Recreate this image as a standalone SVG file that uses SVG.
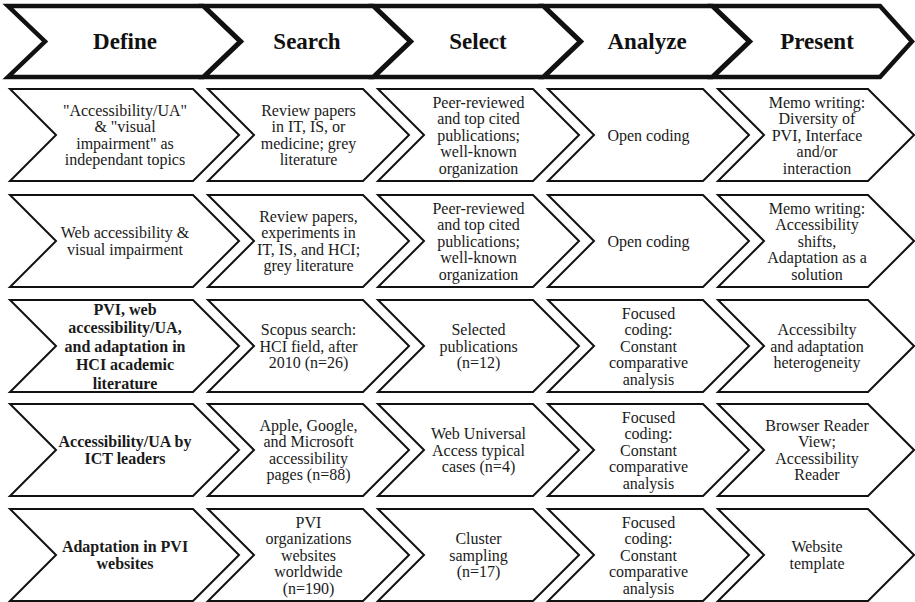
<svg xmlns="http://www.w3.org/2000/svg" width="915" height="602" viewBox="0 0 915 602">
<defs>
<polygon id="hdshape" points="0,0 0,0"/>
</defs>
<rect width="915" height="602" fill="#fff"/>
<!-- Header -->
<g id="header" fill="#fff" stroke="#111" stroke-width="4.5">
<g id="h-define"><polygon points="8,6 203,6 240,41.5 203,77 8,77 45,41.5"/><text font-family="Liberation Serif" font-weight="bold" font-size="23" fill="#111" stroke="none" text-anchor="middle" x="125" y="49">Define</text></g>
<g id="h-search"><polygon points="204,6 373,6 410,41.5 373,77 204,77 241,41.5"/><text font-family="Liberation Serif" font-weight="bold" font-size="23" fill="#111" stroke="none" text-anchor="middle" x="307" y="49">Search</text></g>
<g id="h-select"><polygon points="374,6 543,6 580,41.5 543,77 374,77 411,41.5"/><text font-family="Liberation Serif" font-weight="bold" font-size="23" fill="#111" stroke="none" text-anchor="middle" x="478" y="49">Select</text></g>
<g id="h-analyze"><polygon points="544,6 712,6 749,41.5 712,77 544,77 581,41.5"/><text font-family="Liberation Serif" font-weight="bold" font-size="23" fill="#111" stroke="none" text-anchor="middle" x="647" y="49">Analyze</text></g>
<g id="h-present"><polygon points="713,6 880,6 912,41.5 880,77 713,77 750,41.5"/><text font-family="Liberation Serif" font-weight="bold" font-size="23" fill="#111" stroke="none" text-anchor="middle" x="817" y="49">Present</text></g>
</g>

<g id="body" fill="#fff" stroke="#111" stroke-width="2">
<!-- Row 1 -->
<g id="r1c1"><polygon points="10,89 193,89 239,135 193,181 10,181 56,135"/>
<text font-family="Liberation Serif" font-size="16" fill="#1a1a1a" stroke="none" text-anchor="middle" y="115.75"><tspan x="125">"Accessibility/UA"</tspan><tspan x="125" dy="16.5">&amp; "visual</tspan><tspan x="125" dy="16.5">impairment" as</tspan><tspan x="125" dy="16.5">independant topics</tspan></text></g>
<g id="r1c2"><polygon points="208,89 363,89 409,135 363,181 208,181 254,135"/>
<text font-family="Liberation Serif" font-size="16" fill="#1a1a1a" stroke="none" text-anchor="middle" y="115.75"><tspan x="308.5">Review papers</tspan><tspan x="308.5" dy="16.5">in IT, IS, or</tspan><tspan x="308.5" dy="16.5">medicine; grey</tspan><tspan x="308.5" dy="16.5">literature</tspan></text></g>
<g id="r1c3"><polygon points="378,89 533,89 579,135 533,181 378,181 424,135"/>
<text font-family="Liberation Serif" font-size="16" fill="#1a1a1a" stroke="none" text-anchor="middle" y="107.5"><tspan x="478.5">Peer-reviewed</tspan><tspan x="478.5" dy="16.5">and top cited</tspan><tspan x="478.5" dy="16.5">publications;</tspan><tspan x="478.5" dy="16.5">well-known</tspan><tspan x="478.5" dy="16.5">organization</tspan></text></g>
<g id="r1c4"><polygon points="548,89 703,89 749,135 703,181 548,181 594,135"/>
<text font-family="Liberation Serif" font-size="16" fill="#1a1a1a" stroke="none" text-anchor="middle" x="648.5" y="140.5">Open coding</text></g>
<g id="r1c5"><polygon points="718,89 868,89 914,135 868,181 718,181 764,135"/>
<text font-family="Liberation Serif" font-size="16" fill="#1a1a1a" stroke="none" text-anchor="middle" y="107.5"><tspan x="817">Memo writing:</tspan><tspan x="817" dy="16.5">Diversity of</tspan><tspan x="817" dy="16.5">PVI, Interface</tspan><tspan x="817" dy="16.5">and/or</tspan><tspan x="817" dy="16.5">interaction</tspan></text></g>

<!-- Row 2 -->
<g id="r2c1"><polygon points="10,195 193,195 239,241 193,287 10,287 56,241"/>
<text font-family="Liberation Serif" font-size="16" fill="#1a1a1a" stroke="none" text-anchor="middle" y="238.25"><tspan x="125">Web accessibility &amp;</tspan><tspan x="125" dy="16.5">visual impairment</tspan></text></g>
<g id="r2c2"><polygon points="208,195 363,195 409,241 363,287 208,287 254,241"/>
<text font-family="Liberation Serif" font-size="16" fill="#1a1a1a" stroke="none" text-anchor="middle" y="221.75"><tspan x="308.5">Review papers,</tspan><tspan x="308.5" dy="16.5">experiments in</tspan><tspan x="308.5" dy="16.5">IT, IS, and HCI;</tspan><tspan x="308.5" dy="16.5">grey literature</tspan></text></g>
<g id="r2c3"><polygon points="378,195 533,195 579,241 533,287 378,287 424,241"/>
<text font-family="Liberation Serif" font-size="16" fill="#1a1a1a" stroke="none" text-anchor="middle" y="213.5"><tspan x="478.5">Peer-reviewed</tspan><tspan x="478.5" dy="16.5">and top cited</tspan><tspan x="478.5" dy="16.5">publications;</tspan><tspan x="478.5" dy="16.5">well-known</tspan><tspan x="478.5" dy="16.5">organization</tspan></text></g>
<g id="r2c4"><polygon points="548,195 703,195 749,241 703,287 548,287 594,241"/>
<text font-family="Liberation Serif" font-size="16" fill="#1a1a1a" stroke="none" text-anchor="middle" x="648.5" y="246.5">Open coding</text></g>
<g id="r2c5"><polygon points="718,195 868,195 914,241 868,287 718,287 764,241"/>
<text font-family="Liberation Serif" font-size="16" fill="#1a1a1a" stroke="none" text-anchor="middle" y="213.5"><tspan x="817">Memo writing:</tspan><tspan x="817" dy="16.5">Accessibility</tspan><tspan x="817" dy="16.5">shifts,</tspan><tspan x="817" dy="16.5">Adaptation as a</tspan><tspan x="817" dy="16.5">solution</tspan></text></g>

<!-- Row 3 -->
<g id="r3c1"><polygon points="10,300 193,300 239,346 193,392 10,392 56,346"/>
<text font-family="Liberation Serif" font-size="16" font-weight="bold" fill="#1a1a1a" stroke="none" text-anchor="middle" y="314.5"><tspan x="125">PVI, web</tspan><tspan x="125" dy="18.5">accessibility/UA,</tspan><tspan x="125" dy="18.5">and adaptation in</tspan><tspan x="125" dy="18.5">HCI academic</tspan><tspan x="125" dy="18.5">literature</tspan></text></g>
<g id="r3c2"><polygon points="208,300 363,300 409,346 363,392 208,392 254,346"/>
<text font-family="Liberation Serif" font-size="16" fill="#1a1a1a" stroke="none" text-anchor="middle" y="335"><tspan x="308.5">Scopus search:</tspan><tspan x="308.5" dy="16.5">HCI field, after</tspan><tspan x="308.5" dy="16.5">2010 (n=26)</tspan></text></g>
<g id="r3c3"><polygon points="378,300 533,300 579,346 533,392 378,392 424,346"/>
<text font-family="Liberation Serif" font-size="16" fill="#1a1a1a" stroke="none" text-anchor="middle" y="335"><tspan x="478.5">Selected</tspan><tspan x="478.5" dy="16.5">publications</tspan><tspan x="478.5" dy="16.5">(n=12)</tspan></text></g>
<g id="r3c4"><polygon points="548,300 703,300 749,346 703,392 548,392 594,346"/>
<text font-family="Liberation Serif" font-size="16" fill="#1a1a1a" stroke="none" text-anchor="middle" y="318.5"><tspan x="648.5">Focused</tspan><tspan x="648.5" dy="16.5">coding:</tspan><tspan x="648.5" dy="16.5">Constant</tspan><tspan x="648.5" dy="16.5">comparative</tspan><tspan x="648.5" dy="16.5">analysis</tspan></text></g>
<g id="r3c5"><polygon points="718,300 868,300 914,346 868,392 718,392 764,346"/>
<text font-family="Liberation Serif" font-size="16" fill="#1a1a1a" stroke="none" text-anchor="middle" y="335"><tspan x="817">Accessibilty</tspan><tspan x="817" dy="16.5">and adaptation</tspan><tspan x="817" dy="16.5">heterogeneity</tspan></text></g>

<!-- Row 4 -->
<g id="r4c1"><polygon points="10,404 193,404 239,450 193,496 10,496 56,450"/>
<text font-family="Liberation Serif" font-size="16" font-weight="bold" fill="#1a1a1a" stroke="none" text-anchor="middle" y="446.5"><tspan x="125">Accessibility/UA by</tspan><tspan x="125" dy="17">ICT leaders</tspan></text></g>
<g id="r4c2"><polygon points="208,404 363,404 409,450 363,496 208,496 254,450"/>
<text font-family="Liberation Serif" font-size="16" fill="#1a1a1a" stroke="none" text-anchor="middle" y="430.75"><tspan x="308.5">Apple, Google,</tspan><tspan x="308.5" dy="16.5">and Microsoft</tspan><tspan x="308.5" dy="16.5">accessibility</tspan><tspan x="308.5" dy="16.5">pages (n=88)</tspan></text></g>
<g id="r4c3"><polygon points="378,404 533,404 579,450 533,496 378,496 424,450"/>
<text font-family="Liberation Serif" font-size="16" fill="#1a1a1a" stroke="none" text-anchor="middle" y="439"><tspan x="478.5">Web Universal</tspan><tspan x="478.5" dy="16.5">Access typical</tspan><tspan x="478.5" dy="16.5">cases (n=4)</tspan></text></g>
<g id="r4c4"><polygon points="548,404 703,404 749,450 703,496 548,496 594,450"/>
<text font-family="Liberation Serif" font-size="16" fill="#1a1a1a" stroke="none" text-anchor="middle" y="422.5"><tspan x="648.5">Focused</tspan><tspan x="648.5" dy="16.5">coding:</tspan><tspan x="648.5" dy="16.5">Constant</tspan><tspan x="648.5" dy="16.5">comparative</tspan><tspan x="648.5" dy="16.5">analysis</tspan></text></g>
<g id="r4c5"><polygon points="718,404 868,404 914,450 868,496 718,496 764,450"/>
<text font-family="Liberation Serif" font-size="16" fill="#1a1a1a" stroke="none" text-anchor="middle" y="430.75"><tspan x="817">Browser Reader</tspan><tspan x="817" dy="16.5">View;</tspan><tspan x="817" dy="16.5">Accessibility</tspan><tspan x="817" dy="16.5">Reader</tspan></text></g>

<!-- Row 5 -->
<g id="r5c1"><polygon points="10,509 193,509 239,555 193,601 10,601 56,555"/>
<text font-family="Liberation Serif" font-size="16" font-weight="bold" fill="#1a1a1a" stroke="none" text-anchor="middle" y="551.5"><tspan x="125">Adaptation in PVI</tspan><tspan x="125" dy="17">websites</tspan></text></g>
<g id="r5c2"><polygon points="208,509 363,509 409,555 363,601 208,601 254,555"/>
<text font-family="Liberation Serif" font-size="16" fill="#1a1a1a" stroke="none" text-anchor="middle" y="527.5"><tspan x="308.5">PVI</tspan><tspan x="308.5" dy="16.5">organizations</tspan><tspan x="308.5" dy="16.5">websites</tspan><tspan x="308.5" dy="16.5">worldwide</tspan><tspan x="308.5" dy="16.5">(n=190)</tspan></text></g>
<g id="r5c3"><polygon points="378,509 533,509 579,555 533,601 378,601 424,555"/>
<text font-family="Liberation Serif" font-size="16" fill="#1a1a1a" stroke="none" text-anchor="middle" y="544"><tspan x="478.5">Cluster</tspan><tspan x="478.5" dy="16.5">sampling</tspan><tspan x="478.5" dy="16.5">(n=17)</tspan></text></g>
<g id="r5c4"><polygon points="548,509 703,509 749,555 703,601 548,601 594,555"/>
<text font-family="Liberation Serif" font-size="16" fill="#1a1a1a" stroke="none" text-anchor="middle" y="527.5"><tspan x="648.5">Focused</tspan><tspan x="648.5" dy="16.5">coding:</tspan><tspan x="648.5" dy="16.5">Constant</tspan><tspan x="648.5" dy="16.5">comparative</tspan><tspan x="648.5" dy="16.5">analysis</tspan></text></g>
<g id="r5c5"><polygon points="718,509 868,509 914,555 868,601 718,601 764,555"/>
<text font-family="Liberation Serif" font-size="16" fill="#1a1a1a" stroke="none" text-anchor="middle" y="552.25"><tspan x="817">Website</tspan><tspan x="817" dy="16.5">template</tspan></text></g>
</g>

<g id="connectors"></g>
</svg>
